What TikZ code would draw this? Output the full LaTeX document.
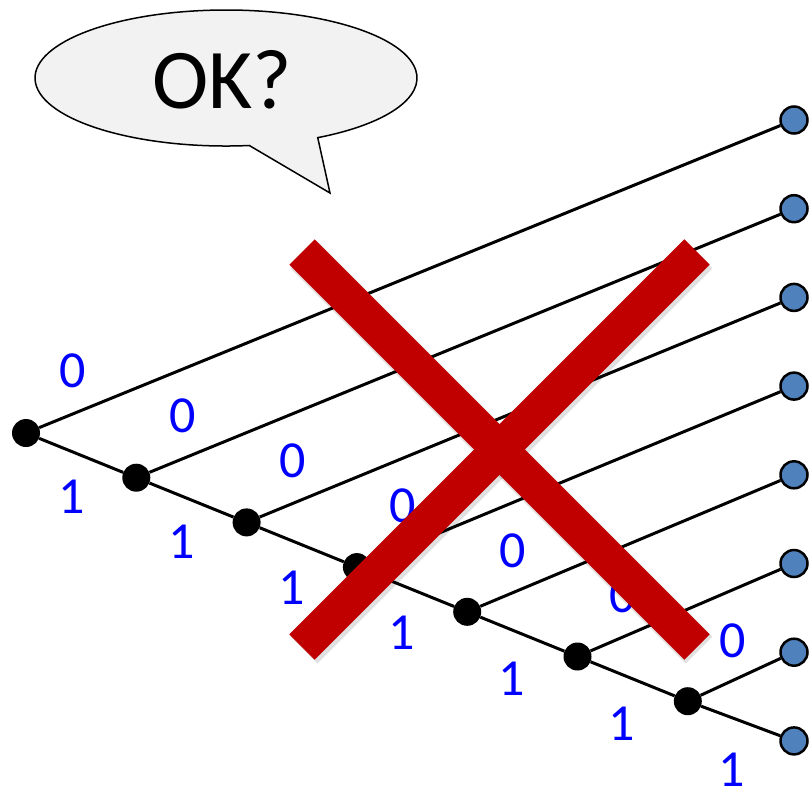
\documentclass[tikz,border=0pt]{standalone}
\usepackage{fontspec}
\setmainfont{Carlito}
\definecolor{leafblue}{HTML}{4F81BD}
\definecolor{crossred}{HTML}{C00000}
\definecolor{bubblegray}{HTML}{F2F2F2}
\definecolor{bitblue}{HTML}{0000FF}
\begin{document}
\begin{tikzpicture}[x=1pt,y=-1pt,
  inner/.style={circle,fill=black,minimum size=28pt,inner sep=0pt},
  leaf/.style={circle,fill=leafblue,draw=black,line width=2.5pt,minimum size=27pt,inner sep=0pt},
  edge/.style={line width=3pt,black},
  bit/.style={text=bitblue,anchor=base,font=\fontsize{52}{56}\selectfont,inner sep=0pt},
  bar/.style={line width=36pt,line cap=butt,crossred},
  barshadow/.style={line width=38pt,line cap=butt,black,opacity=0.12}]
\useasboundingbox (0,0) rectangle (809,790);

% speech bubble
\filldraw[fill=bubblegray,draw=black,line width=1.5pt]
  (330,193) -- (249.3,145.5)
  arc[start angle=83,end angle=421.3,x radius=191,y radius=68]
  -- cycle;
\node[anchor=base,font=\fontsize{85}{90}\selectfont,inner sep=0pt] (ok) at (222,108) {OK?};

% inner nodes of the tree
\foreach \k in {0,...,6}
  \node[inner] (n\k) at ({26+110.3*\k},{433+44.7*\k}) {};
% leaves
\foreach \k in {0,...,7}
  \node[leaf] (l\k) at (794,{120+88.7*\k}) {};

% edges
\foreach \k in {0,...,6}
  \draw[edge] (n\k) -- (l\k);
\foreach \k [evaluate=\k as \j using int(\k+1)] in {0,...,5}
  \draw[edge] (n\k) -- (n\j);
\draw[edge] (n6) -- (l7);

% edge labels
\foreach \k in {0,...,6} {
  \node[bit] (z\k) at ({72.5+110*\k},{387+45*\k}) {0};
  \node[bit] (o\k) at ({71.5+110*\k},{513+45.5*\k}) {1};
}

% the cross
\draw[barshadow] (304,255) -- (699,650);
\draw[barshadow] (699,255) -- (304,650);
\draw[bar] (302,252) -- (697,647);
\draw[bar] (697,252) -- (302,647);
\end{tikzpicture}
\end{document}
